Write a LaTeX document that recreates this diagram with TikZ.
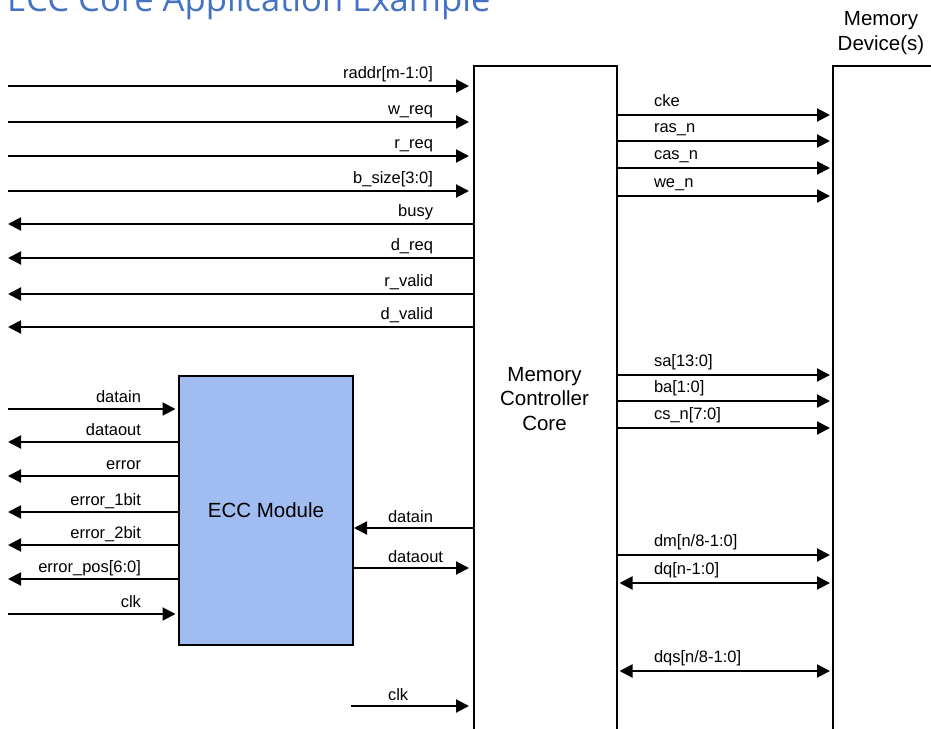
\documentclass[tikz,border=0pt]{standalone}
\usepackage{fontspec}
\setmainfont{Liberation Sans}
\newfontfamily\titlefont{Open Sans}
\usetikzlibrary{arrows.meta}

\definecolor{eccblue}{HTML}{A0BCF0}
\definecolor{titleblue}{HTML}{4472C4}

\tikzset{
  tomc/.style={->, shorten >=4pt},
  toecc/.style={->, shorten >=2.5pt},
  todev/.style={->, shorten >=2pt},
  fromblk/.style={<-},
  bidir/.style={<->, shorten <=1.5pt, shorten >=2pt},
  siglbl/.style={font=\fontsize{16.5}{19}\selectfont, inner sep=0pt},
  bigtxt/.style={font=\fontsize{20.5}{24.5}\selectfont, align=center, inner sep=0pt},
  block/.style={draw, line width=2pt, inner sep=0pt, anchor=north west},
}

\begin{document}
\begin{tikzpicture}[>={Triangle[length=13pt, width=13pt]}, x=1pt, y=-1pt, line width=2pt]

  \useasboundingbox (0,0) rectangle (931,728);
  \clip (0,0) rectangle (931,728);

  % Title (cut off at the top)
  \node[font=\titlefont\fontsize{34.6}{40}\selectfont, text=titleblue, anchor=base west, inner sep=0pt]
    (title) at (6,11) {ECC Core Application Example};

  % Blocks
  \node[block, minimum width=143pt, minimum height=700pt] (mc) at (473,65) {};
  \node[bigtxt] (mctext) at (544.5,399) {Memory\\Controller\\Core};
  \node[block, minimum width=150pt, minimum height=700pt] (dev) at (832,65) {};
  \node[bigtxt, font=\fontsize{20.5}{24.5}\selectfont] (devtext) at (881,33) {Memory\\Device(s)};
  \node[block, fill=eccblue, minimum width=174pt, minimum height=269pt,
        font=\fontsize{20.5}{24.5}\selectfont] (ecc) at (178,375) {ECC Module};

  % Host side of the controller
  \foreach \y/\txt/\dir [count=\i] in {86/{raddr[m-1:0]}/tomc, 122/w\_req/tomc,
      156/r\_req/tomc, 191/{b\_size[3:0]}/tomc, 224/busy/fromblk, 258/d\_req/fromblk,
      294/r\_valid/fromblk, 327/d\_valid/fromblk} {
    \coordinate (host\i) at (8,\y);
    \draw[\dir] (host\i) -- (host\i -| mc.west);
    \node[siglbl, anchor=base east] (hostlbl\i) at (434,\y-8) {\txt};
  }

  % User side of the ECC module
  \foreach \y/\txt/\dir [count=\i] in {409/datain/toecc, 442/dataout/fromblk,
      476/error/fromblk, 512/error\_1bit/fromblk, 545/error\_2bit/fromblk,
      579/{error\_pos[6:0]}/fromblk, 614/clk/toecc} {
    \coordinate (user\i) at (8,\y);
    \draw[\dir] (user\i) -- (user\i -| ecc.west);
    \node[siglbl, anchor=base east] (userlbl\i) at (142,\y-7) {\txt};
  }

  % ECC module <-> controller
  \coordinate (eccin) at (400,528);
  \coordinate (eccout) at (400,568);
  \draw[->] (eccin -| mc.west) -- (eccin -| ecc.east);
  \node[siglbl, anchor=base west] (eccinlbl) at (387,522) {datain};
  \draw[tomc] (eccout -| ecc.east) -- (eccout -| mc.west);
  \node[siglbl, anchor=base west] (eccoutlbl) at (387,562) {dataout};

  % Clock of the controller
  \coordinate (clk) at (351,706);
  \draw[tomc] (clk) -- (clk -| mc.west);
  \node[siglbl, anchor=base west] (clklbl) at (387,700) {clk};

  % Controller -> memory device(s)
  \foreach \y/\txt/\dir [count=\i] in {115/cke/todev, 141/ras\_n/todev, 168/cas\_n/todev,
      196/we\_n/todev, 375/{sa[13:0]}/todev, 401/{ba[1:0]}/todev, 428/{cs\_n[7:0]}/todev,
      555/{dm[n/8-1:0]}/todev, 583/{dq[n-1:0]}/bidir, 671/{dqs[n/8-1:0]}/bidir} {
    \coordinate (mem\i) at (700,\y);
    \draw[\dir] (mem\i -| mc.east) -- (mem\i -| dev.west);
    \node[siglbl, anchor=base west] (memlbl\i) at (653,\y-9) {\txt};
  }

\end{tikzpicture}
\end{document}
